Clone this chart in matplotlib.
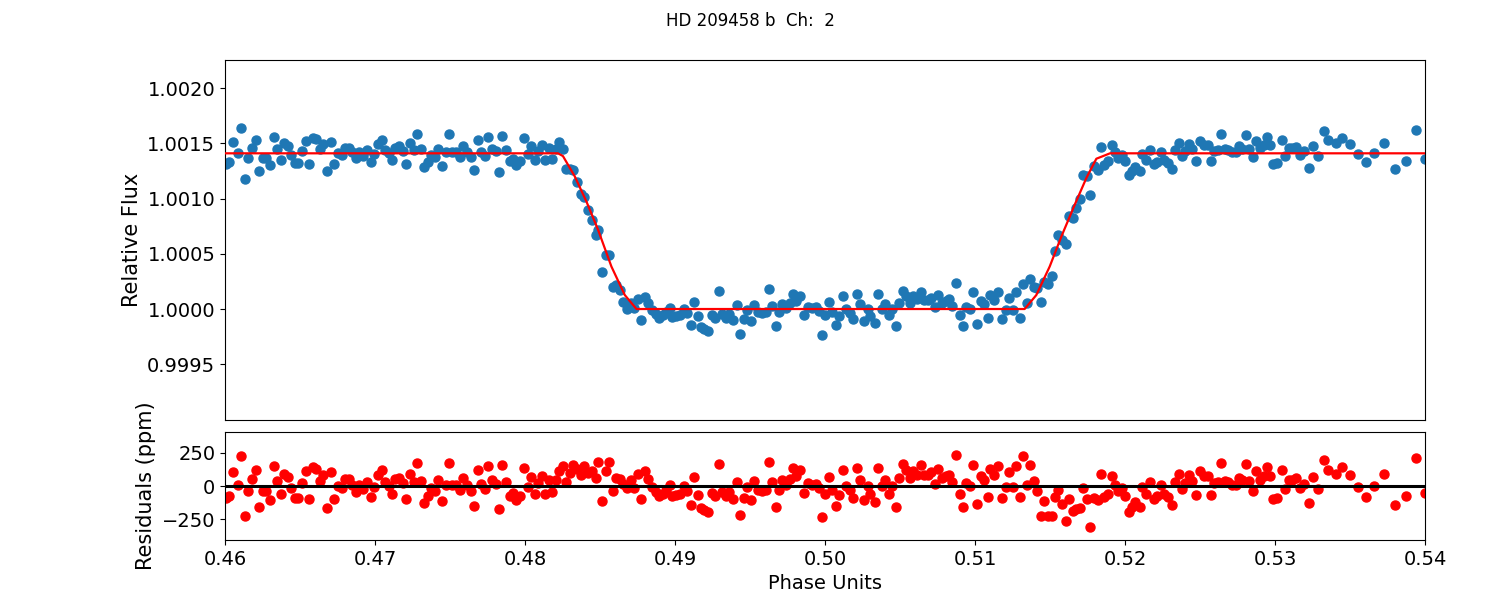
import numpy as np
import matplotlib
matplotlib.use("Agg")
import matplotlib.pyplot as plt
from matplotlib.ticker import FormatStrFormatter

# ---------------- data ----------------
phase = [
    0.46004, 0.46029, 0.46053, 0.46087, 0.46107, 0.46133, 0.46153, 0.46180, 0.46207, 0.46227,
    0.46253, 0.46276, 0.46300, 0.46324, 0.46347, 0.46373, 0.46391, 0.46420, 0.46438, 0.46467,
    0.46489, 0.46511, 0.46538, 0.46558, 0.46587, 0.46609, 0.46631, 0.46651, 0.46680, 0.46707,
    0.46727, 0.46753, 0.46778, 0.46800, 0.46827, 0.46849, 0.46871, 0.46893, 0.46920, 0.46944,
    0.46971, 0.46991,
    0.47020, 0.47047, 0.47067, 0.47093, 0.47113, 0.47136, 0.47160, 0.47187, 0.47207, 0.47231,
    0.47258, 0.47280, 0.47307, 0.47324, 0.47353, 0.47376, 0.47402, 0.47420, 0.47444, 0.47476,
    0.47493, 0.47516, 0.47542, 0.47567, 0.47587, 0.47613, 0.47640, 0.47660, 0.47687, 0.47709,
    0.47733, 0.47753, 0.47780, 0.47804, 0.47824, 0.47847, 0.47871, 0.47898, 0.47920, 0.47942,
    0.47964, 0.47991,
    0.48018, 0.48040, 0.48067, 0.48087, 0.48111, 0.48133, 0.48160, 0.48182, 0.48204, 0.48227,
    0.48253, 0.48276, 0.48302, 0.48320, 0.48347, 0.48373, 0.48396, 0.48422, 0.48444, 0.48471,
    0.48489, 0.48511, 0.48538, 0.48560, 0.48587, 0.48604, 0.48631, 0.48653, 0.48680, 0.48707,
    0.48727, 0.48751, 0.48773, 0.48800, 0.48822, 0.48849, 0.48871, 0.48893, 0.48920, 0.48942,
    0.48964, 0.48982,
    0.49009, 0.49031, 0.49058, 0.49080, 0.49107, 0.49124, 0.49156, 0.49173, 0.49196, 0.49220,
    0.49244, 0.49267, 0.49293, 0.49316, 0.49338, 0.49360, 0.49387, 0.49413, 0.49431, 0.49458,
    0.49480, 0.49507, 0.49529, 0.49551, 0.49578, 0.49604, 0.49627, 0.49644, 0.49671, 0.49693,
    0.49716, 0.49742, 0.49764, 0.49787, 0.49809, 0.49836, 0.49862, 0.49884, 0.49911, 0.49938,
    0.49960, 0.49978,
    0.50000, 0.50027, 0.50049, 0.50071, 0.50093, 0.50120, 0.50142, 0.50164, 0.50187, 0.50213,
    0.50233, 0.50260, 0.50284, 0.50302, 0.50333, 0.50353, 0.50378, 0.50400, 0.50427, 0.50444,
    0.50471, 0.50493, 0.50520, 0.50542, 0.50564, 0.50587, 0.50613, 0.50640, 0.50662, 0.50689,
    0.50707, 0.50733, 0.50753, 0.50778, 0.50804, 0.50827, 0.50849, 0.50871, 0.50898, 0.50920,
    0.50942, 0.50969, 0.50987,
    0.51013, 0.51040, 0.51062, 0.51084, 0.51102, 0.51129, 0.51156, 0.51178, 0.51204, 0.51227,
    0.51253, 0.51276, 0.51298, 0.51320, 0.51347, 0.51369, 0.51396, 0.51413, 0.51440, 0.51462,
    0.51489, 0.51511, 0.51533, 0.51556, 0.51582, 0.51604, 0.51627, 0.51653, 0.51676, 0.51698,
    0.51720, 0.51747, 0.51769, 0.51796, 0.51818, 0.51840, 0.51862, 0.51884, 0.51916, 0.51933,
    0.51956, 0.51978,
    0.52000, 0.52027, 0.52044, 0.52067, 0.52098, 0.52116, 0.52142, 0.52164, 0.52191, 0.52213,
    0.52240, 0.52262, 0.52289, 0.52311, 0.52333, 0.52360, 0.52378, 0.52400, 0.52427, 0.52449,
    0.52476, 0.52498, 0.52529, 0.52551, 0.52573, 0.52596, 0.52622, 0.52640, 0.52667, 0.52689,
    0.52716, 0.52738, 0.52760, 0.52782, 0.52804, 0.52827, 0.52853, 0.52876, 0.52902, 0.52924,
    0.52947, 0.52969, 0.52987,
    0.53013, 0.53044, 0.53067, 0.53093, 0.53116, 0.53142, 0.53164, 0.53191, 0.53227, 0.53253,
    0.53284, 0.53324, 0.53356, 0.53404, 0.53444, 0.53498, 0.53551, 0.53604, 0.53658, 0.53724,
    0.53800, 0.53871, 0.53938, 0.53998,
]

resid_ppm = [
    -94, -77, 106, 7, 230, -230, -40, 52, 119, -156,
    -40, -40, -109, 149, 40, -57, 89, 69, -17, -89,
    -89, 25, 114, -97, 141, 129, 40, 87, -163, 104,
    -97, 2, -17, 52, 52, 10, -42, 10, -22, 32,
    -82, -7,
    84, 121, 30, 2, -64, 52, 64, 22, -97, 89,
    27, 173, 35, -126, -77, -15, -35, 42, -116, 10,
    173, 10, 10, -32, 64, 10, -37, -149, 121, 15,
    -22, 151, 42, 17, -171, 156, 27, -72, -52, -106,
    -72, 139,
    -7, 67, -57, 22, 72, -64, 47, -47, 42, 111,
    151, 32, 101, 161, 126, 82, 151, 101, 111, 57,
    181, -116, 116, 181, -37, 59, 52, 12, -17, 42,
    -15, 92, -101, 111, 52, -7, -42, -77, -57, -27,
    7, -72,
    -67, -57, -2, -40, -141, 67, -67, -163, -181, -200,
    -52, -77, 166, -42, -77, -42, -97, 32, -223, -92,
    -7, -106, 40, -27, -35, -27, 181, 27, -156, -27,
    42, 10, 52, 136, 72, 119, -52, 22, 10, 17,
    -15, -238,
    -57, 67, -27, -149, -67, 119, 2, -32, -89, 134,
    45, -109, -2, -59, -124, 136, -2, 42, -57, -2,
    -158, 59, 163, 121, 59, 116, 87, 156, 82, 82,
    104, 17, 129, 59, 72, 87, 30, 233, -57, -156,
    22, -2, 156,
    -139, 72, 47, -84, 126, 84, 151, -94, -10, 104,
    -7, 151, -82, 230, 10, 156, 35, -40, -230, -116,
    -230, -230, -84, -27, -134, -267, -97, -191, -176, -168,
    -15, -97, -312, -92, -109, 92, -84, -57, 72, 10,
    -40, -15,
    -72, -200, -156, -121, -156, -7, -57, 30, -97, -77,
    10, -64, -84, -146, 30, 92, -22, 22, 84, 35,
    -67, 116, 72, 72, -67, 22, 27, 171, 40, 27,
    10, 10, 64, 42, 166, 35, -37, 116, 47, 72,
    146, 72, -101,
    -89, 121, -22, 47, 47, 59, -15, 17, -131, 69,
    -22, 200, 119, 92, 141, 82, -7, -82, 2, 89,
    -141, -72, 210, -52,
]

# transit model line (knots)
model_phase = [0.46000, 0.48220, 0.48253, 0.48331, 0.48409, 0.48487, 0.48576, 0.48665, 0.48743,
               0.51331, 0.51409, 0.51498, 0.51576, 0.51665, 0.51743, 0.51809, 0.51865, 0.51900,
               0.54000]
model_flux = [1.00141, 1.00141, 1.001385, 1.001203, 1.000975, 1.000718, 1.000385, 1.000127, 1.000000,
              1.000000, 1.000127, 1.000385, 1.000657, 1.000945, 1.001188, 1.001361, 1.001391, 1.00141,
              1.00141]

# flux values read directly in the ingress / egress of the upper panel
ingress_phase = [0.48253, 0.48276, 0.48302, 0.48320, 0.48347, 0.48373, 0.48396, 0.48422, 0.48444, 0.48471,
                 0.48489, 0.48511, 0.48538, 0.48560, 0.48587, 0.48604, 0.48631, 0.48653, 0.48680, 0.48707]
ingress_flux = [1.001450, 1.001270, 1.001264, 1.001257, 1.001148, 1.001045, 1.001015, 1.000900, 1.000809, 1.000673,
                1.000718, 1.000333, 1.000491, 1.000491, 1.000203, 1.000218, 1.000173, 1.000067, 0.999997, 1.000052]
egress_phase = [0.51347, 0.51369, 0.51396, 0.51413, 0.51440, 0.51462, 0.51489, 0.51511, 0.51533, 0.51556,
                0.51582, 0.51604, 0.51627, 0.51653, 0.51676, 0.51698, 0.51720, 0.51747, 0.51769, 0.51796]
egress_flux = [1.000058, 1.000270, 1.000203, 1.000188, 1.000067, 1.000248, 1.000227, 1.000300, 1.000521, 1.000673,
               1.000627, 1.000591, 1.000845, 1.000824, 1.000915, 1.000997, 1.001218, 1.001203, 1.001036, 1.001294]

title = "HD 209458 b  Ch:  2"

# ---------------- build series ----------------
ph = np.array(phase)
res = np.array(resid_ppm, dtype=float)
mph = np.array(model_phase)
mfl = np.array(model_flux)

# outside ingress/egress: flux = model + residual
flux = np.interp(ph, mph, mfl) + res * 1e-6
for p_list, f_list in ((ingress_phase, ingress_flux), (egress_phase, egress_flux)):
    for p, f in zip(p_list, f_list):
        idx = np.argmin(np.abs(ph - p))
        flux[idx] = f

# ---------------- figure ----------------
fig = plt.figure(figsize=(15, 6), dpi=100)
ax1 = fig.add_axes([0.15, 0.30, 0.80, 0.60])
ax2 = fig.add_axes([0.15, 0.10, 0.80, 0.18], sharex=ax1)

ax1.plot(ph, flux, 'o', color='#1f77b4', ms=6.5, zorder=2)
ax1.plot(mph, mfl, '-', color='red', lw=1.6, zorder=3)
ax1.set_ylim(0.998995, 1.002255)
ax1.set_yticks([0.9995, 1.0000, 1.0005, 1.0010, 1.0015, 1.0020])
ax1.yaxis.set_major_formatter(FormatStrFormatter('%.4f'))
ax1.set_ylabel('Relative Flux', fontsize=15)
ax1.tick_params(axis='both', labelsize=14)
ax1.tick_params(axis='x', bottom=False, labelbottom=False)

ax2.plot(ph, res, 'o', color='red', ms=6.5, zorder=2)
ax2.axhline(0, color='black', lw=2.2, zorder=3)
ax2.set_ylim(-409, 409)
ax2.set_yticks([-250, 0, 250])
ax2.set_xlim(0.46, 0.54)
ax2.set_xticks([0.46, 0.47, 0.48, 0.49, 0.50, 0.51, 0.52, 0.53, 0.54])
ax2.xaxis.set_major_formatter(FormatStrFormatter('%.2f'))
ax2.set_xlabel('Phase Units', fontsize=14)
ax2.set_ylabel('Residuals (ppm)', fontsize=15)
ax2.tick_params(axis='both', labelsize=14)

fig.suptitle(title, fontsize=12)

fig.savefig('out.png', dpi=100)
